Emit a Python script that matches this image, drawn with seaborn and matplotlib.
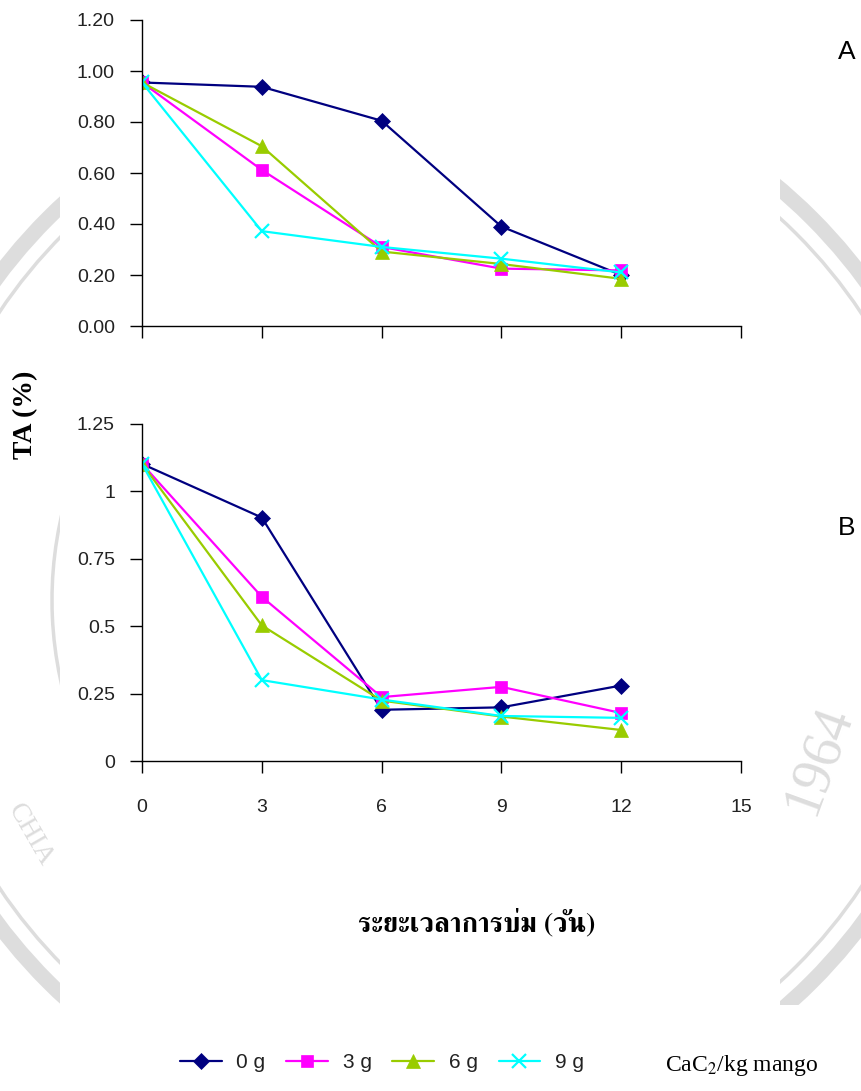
import matplotlib
matplotlib.use("Agg")
import matplotlib.pyplot as plt
from matplotlib.lines import Line2D
from matplotlib.patches import Arc, Circle, Rectangle
import pandas as pd
import seaborn as sns

sns.set_theme(style="white")
plt.rcParams["font.family"] = ["Liberation Sans", "DejaVu Sans"]
plt.rcParams["mathtext.fontset"] = "stix"

# Ripening time (days)
days = [0, 3, 6, 9, 12]
doses = ["0 g", "3 g", "6 g", "9 g"]

# Panel A: titratable acidity (%)
ta_a_0 = [0.955, 0.938, 0.805, 0.390, 0.200]
ta_a_3 = [0.955, 0.612, 0.310, 0.225, 0.218]
ta_a_6 = [0.955, 0.705, 0.292, 0.243, 0.185]
ta_a_9 = [0.955, 0.372, 0.310, 0.264, 0.210]

# Panel B: titratable acidity (%)
ta_b_0 = [1.102, 0.903, 0.190, 0.199, 0.280]
ta_b_3 = [1.102, 0.609, 0.237, 0.275, 0.178]
ta_b_6 = [1.102, 0.503, 0.224, 0.165, 0.115]
ta_b_9 = [1.102, 0.300, 0.228, 0.167, 0.160]

yticks_a = [0.0, 0.2, 0.4, 0.6, 0.8, 1.0, 1.2]
yticklabels_a = ["0.00", "0.20", "0.40", "0.60", "0.80", "1.00", "1.20"]
yticks_b = [0, 0.25, 0.5, 0.75, 1, 1.25]
yticklabels_b = ["0", "0.25", "0.5", "0.75", "1", "1.25"]
xticks = [0, 3, 6, 9, 12, 15]

colors = {"0 g": "#000080", "3 g": "#FF00FF", "6 g": "#99CC00", "9 g": "#00FFFF"}
markers = {"0 g": "D", "3 g": "s", "6 g": "^", "9 g": "x"}
msizes = {"0 g": 8.5, "3 g": 8.5, "6 g": 10, "9 g": 10}


def long_frame(series):
    rows = []
    for dose, vals in zip(doses, series):
        for d, v in zip(days, vals):
            rows.append({"day": d, "ta": v, "dose": dose})
    return pd.DataFrame(rows)


df_a = long_frame([ta_a_0, ta_a_3, ta_a_6, ta_a_9])
df_b = long_frame([ta_b_0, ta_b_3, ta_b_6, ta_b_9])

W, H = 861, 1091
fig = plt.figure(figsize=(W / 100, H / 100), dpi=100)


def fx(px):
    return px / W


def fy(py):
    return 1 - py / H


# faint emblem ring in the page background
bg = fig.add_axes([0, 0, 1, 1], zorder=-10)
bg.set_xlim(0, W)
bg.set_ylim(H, 0)
bg.axis("off")
ring_col = "#dddddd"
bg.add_patch(Circle((430, 600), 540, fill=False, lw=11, ec=ring_col))
bg.add_patch(Circle((430, 600), 518, fill=False, lw=2.5, ec=ring_col))
bg.add_patch(Arc((430, 600), 756, 756, theta1=140, theta2=215, lw=2.5, ec=ring_col))
bg.text(818, 760, "1964", rotation=70, fontsize=40, color=ring_col,
        family=["Liberation Serif"], ha="center", va="center")
bg.text(30, 835, "CHIA", rotation=-60, fontsize=20, color=ring_col,
        family=["Liberation Serif"], ha="center", va="center")
bg.add_patch(Rectangle((60, 0), 720, 1005, fc="white", ec="none"))
bg.add_patch(Rectangle((0, 1005), W, H - 1005, fc="white", ec="none"))

ax_a = fig.add_axes([fx(142), fy(326), fx(741 - 142), fy(20) - fy(326)])
ax_b = fig.add_axes([fx(142), fy(761), fx(741 - 142), fy(424) - fy(761)])


def draw(ax, df):
    for dose in doses:
        sub = df[df["dose"] == dose]
        c = colors[dose]
        sns.lineplot(data=sub, x="day", y="ta", ax=ax, color=c, lw=1.6,
                     marker=markers[dose], markersize=msizes[dose],
                     markeredgecolor=c, markerfacecolor=c,
                     markeredgewidth=1.6 if dose == "9 g" else 0.5,
                     legend=False)
    ax.set_xlim(0, 15)
    ax.set_xticks(xticks)
    ax.set_xlabel("")
    ax.set_ylabel("")
    ax.patch.set_alpha(0)
    for s in ("top", "right"):
        ax.spines[s].set_visible(False)
    for s in ("left", "bottom"):
        ax.spines[s].set_color("black")
        ax.spines[s].set_linewidth(1.0)
    ax.tick_params(axis="both", which="major", bottom=True, left=True,
                   direction="out", length=8.5, width=1.0,
                   color="black", labelsize=14, labelcolor="#222222")
    ax.tick_params(axis="y", pad=11)
    ax.tick_params(axis="x", pad=19)
    ax.grid(False)


draw(ax_a, df_a)
ax_a.set_ylim(0, 1.2)
ax_a.set_yticks(yticks_a)
ax_a.set_yticklabels(yticklabels_a)
ax_a.tick_params(axis="x", labelbottom=False)

draw(ax_b, df_b)
ax_b.set_ylim(0, 1.25)
ax_b.set_yticks(yticks_b)
ax_b.set_yticklabels(yticklabels_b)
ax_b.set_xticklabels([str(t) for t in xticks])

fig.text(fx(847), fy(52), "A", fontsize=19, ha="center", va="center", color="black")
fig.text(fx(847), fy(528), "B", fontsize=19, ha="center", va="center", color="black")

fig.text(fx(26), fy(415), "TA (%)", rotation=90, fontsize=20, fontweight="bold",
         family=["Liberation Serif"], ha="center", va="center", color="black")
fig.text(fx(477), fy(923), "ระยะเวลาการบ่ม (วัน)", fontsize=20, fontweight="bold",
         family=["FreeSerif"], ha="center", va="center", color="black")

handles = [Line2D([], [], color=colors[d], lw=1.6, marker=markers[d],
                  markersize=msizes[d], markeredgecolor=colors[d],
                  markerfacecolor=colors[d],
                  markeredgewidth=1.6 if d == "9 g" else 0.5)
           for d in doses]
leg = fig.legend(handles, doses, loc="center", bbox_to_anchor=(fx(382), fy(1063)),
                 ncol=4, frameon=False, fontsize=15, handlelength=2.0,
                 handletextpad=0.7, columnspacing=1.0)
for t in leg.get_texts():
    t.set_color("#222222")
fig.text(fx(665), fy(1066), "CaC$_2$/kg mango", fontsize=17,
         family=["Liberation Serif"], ha="left", va="center", color="black")

fig.savefig("out.png", dpi=100)
